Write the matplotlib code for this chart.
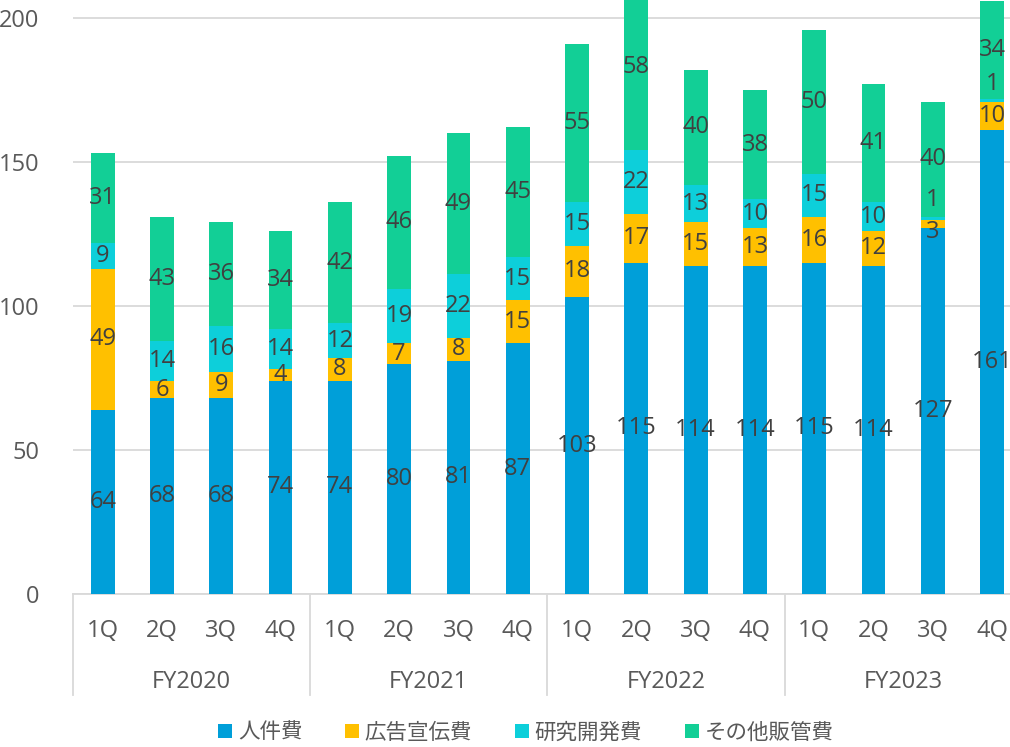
import matplotlib.pyplot as plt
import numpy as np

plt.rcParams['font.family'] = ['Open Sans', 'Noto Sans CJK JP', 'DejaVu Sans']

# データ
years = ['FY2020', 'FY2021', 'FY2022', 'FY2023']
quarters = ['1Q', '2Q', '3Q', '4Q']
series = ['人件費', '広告宣伝費', '研究開発費', 'その他販管費']
jinken = [64, 68, 68, 74, 74, 80, 81, 87, 103, 115, 114, 114, 115, 114, 127, 161]
koukoku = [49, 6, 9, 4, 8, 7, 8, 15, 18, 17, 15, 13, 16, 12, 3, 10]
kenkyu = [9, 14, 16, 14, 12, 19, 22, 15, 15, 22, 13, 10, 15, 10, 1, 1]
sonota = [31, 43, 36, 34, 42, 46, 49, 45, 55, 58, 40, 38, 50, 41, 40, 34]
colors = ['#009FD9', '#FFC000', '#0DCFDA', '#12CF96']

# ラベルが重なる所だけ少しずらす (series index, bar index) -> pixels
nudge = {(2, 14): 18, (1, 14): -8, (2, 15): 16}

fs = 17

fig = plt.figure(figsize=(10.10, 7.47), dpi=100)
ax = fig.add_axes([73 / 1010, 153 / 747, 948.8 / 1010, 594 / 747])

x = np.arange(len(jinken))
bottom = np.zeros(len(x))
for s, (name, vals, c) in enumerate(zip(series, [jinken, koukoku, kenkyu, sonota], colors)):
    vals = np.array(vals)
    ax.bar(x, vals, 0.4, bottom=bottom, color=c, label=name, zorder=3)
    for i, v in enumerate(vals):
        ax.annotate(str(v), (x[i], bottom[i] + v / 2), xytext=(0, nudge.get((s, i), 0)),
                    textcoords='offset pixels', ha='center', va='center',
                    fontsize=fs, color='#404040', zorder=4)
    bottom += vals

ax.set_xlim(-0.5, len(x) - 0.5)
ax.set_ylim(0, 206.25)
ax.set_yticks([0, 50, 100, 150, 200])
ax.tick_params(axis='y', length=0, pad=24, labelsize=fs, labelcolor='#595959')
ax.set_xticks([])
ax.grid(axis='y', color='#d9d9d9', linewidth=1.3, zorder=0)
for sp in ['top', 'right', 'left']:
    ax.spines[sp].set_visible(False)
ax.spines['bottom'].set_color('#d9d9d9')
ax.spines['bottom'].set_linewidth(1.3)

# 2段のカテゴリ軸
for i in x:
    ax.annotate(quarters[i % 4], (i, 0), xytext=(0, -37), textcoords='offset pixels',
                ha='center', va='center', fontsize=fs, color='#595959', annotation_clip=False)
trans = ax.get_xaxis_transform()
for k, y in enumerate(years):
    ax.annotate(y, (k * 4 + 1.5, 0), xytext=(0, -88), textcoords='offset pixels',
                ha='center', va='center', fontsize=fs, color='#595959', annotation_clip=False)
    ax.plot([k * 4 - 0.5, k * 4 - 0.5], [0, -101 / 594], transform=trans,
            color='#d9d9d9', linewidth=1.3, clip_on=False)

fig.legend(loc='center', bbox_to_anchor=(526 / 1010, 1 - 733 / 747), ncol=4, frameon=False,
           fontsize=15.5, handlelength=0.65, handleheight=0.65, handletextpad=0.25,
           columnspacing=2.0, labelcolor='#595959')

fig.savefig('out.png', dpi=100)
